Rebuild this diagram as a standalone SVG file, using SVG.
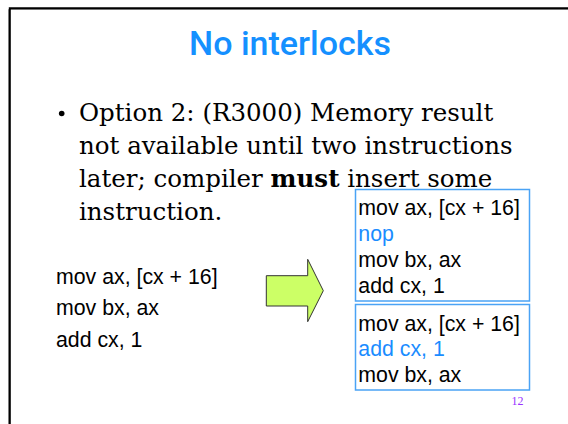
<svg xmlns="http://www.w3.org/2000/svg" width="568" height="424" viewBox="0 0 568 424">
  <style>
    .title { font-family: Roboto, "Liberation Sans", Arial, sans-serif; font-size: 34px; font-weight: 500; fill: #1590ff; }
    .body { font-family: "DejaVu Serif", Georgia, serif; font-size: 24.5px; fill: #000; }
    .code { font-family: "Liberation Sans", Arial, sans-serif; font-size: 21.3px; fill: #000; }
    .hl { fill: #1a8cff; }
    .box { fill: #fff; stroke: #4aa3f5; stroke-width: 1.5; }
    .pagenum { font-family: "Liberation Serif", "Times New Roman", serif; font-size: 12px; fill: #9933ff; }
  </style>
  <rect width="568" height="424" fill="#fff"/>
  <!-- slide frame (runs off the right and bottom edges) -->
  <path d="M8.5,424 V9.5 H568" fill="none" stroke="#9a9a9a" stroke-width="1"/>
  <path d="M9.8,424 V8.3 H568" fill="none" stroke="#000" stroke-width="2"/>

  <g id="title">
    <text class="title" x="290" y="55" text-anchor="middle">No interlocks</text>
  </g>

  <g id="bullet">
    <circle cx="61.7" cy="113.5" r="2.8" fill="#000"/>
    <text class="body" x="79" y="120.5">Option 2: (R3000) Memory result</text>
    <text class="body" x="79" y="153.5">not available until two instructions</text>
    <text class="body" x="79" y="186.5">later; compiler <tspan font-weight="bold">must</tspan> insert some</text>
    <text class="body" x="79" y="220">instruction.</text>
  </g>

  <g id="original-code">
    <text class="code" x="56" y="283.5">mov ax, [cx + 16]</text>
    <text class="code" x="56" y="315">mov bx, ax</text>
    <text class="code" x="56" y="346.5">add cx, 1</text>
  </g>

  <g id="connectors">
    <polygon points="266.3,275.7 307.7,275.7 307.7,259.3 323.3,290.7 307.7,321.7 307.7,306 266.3,306"
             fill="#ccff66" stroke="#333" stroke-width="1"/>
  </g>

  <g id="schedule-nop">
    <rect class="box" x="355.5" y="189.5" width="174" height="111.5"/>
    <text class="code" x="358.3" y="215">mov ax, [cx + 16]</text>
    <text class="code hl" x="358.3" y="240.5">nop</text>
    <text class="code" x="358.3" y="266.5">mov bx, ax</text>
    <text class="code" x="358.3" y="292.5">add cx, 1</text>
  </g>

  <g id="schedule-reorder">
    <rect class="box" x="355.5" y="304.5" width="174" height="85.5"/>
    <text class="code" x="358.3" y="330.5">mov ax, [cx + 16]</text>
    <text class="code hl" x="358.3" y="355.5">add cx, 1</text>
    <text class="code" x="358.3" y="381.5">mov bx, ax</text>
  </g>

  <text class="pagenum" x="523.5" y="404.5" text-anchor="end">12</text>
</svg>
